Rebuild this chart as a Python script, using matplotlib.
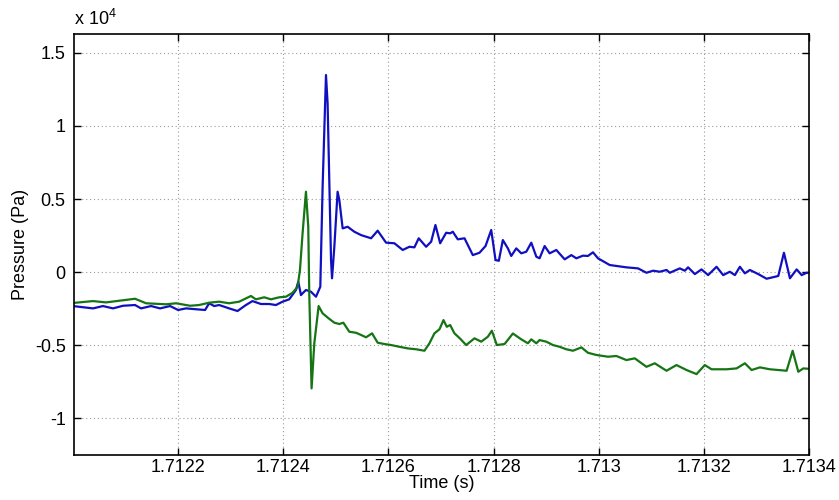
import matplotlib.pyplot as plt
from matplotlib.ticker import FuncFormatter

plt.rcParams["font.family"] = ["Liberation Sans", "DejaVu Sans"]
plt.rcParams["mathtext.fontset"] = "custom"
plt.rcParams["mathtext.rm"] = "Liberation Sans"

# time is given in microseconds after 1.712 s
t0 = 1.712

# sensor 1 (blue)
t_blue = [0.0, 38.1, 57.1, 76.2, 95.2, 118.1, 129.5, 148.6, 165.7, 184.8,
          200.0, 215.2, 234.3, 251.4, 259.1, 268.6, 278.1, 297.1, 313.0, 329.0,
          341.5, 357.5, 373.3, 386.1, 398.7, 411.4, 424.2, 428.6, 433.7, 436.8,
          443.2, 452.8, 462.3, 470.5, 474.9, 481.3, 484.4, 490.9, 492.8, 497.2,
          503.4, 506.7, 513.0, 522.5, 535.2, 548.0, 567.1, 579.6, 595.6, 611.4,
          627.3, 640.0, 649.5, 657.7, 671.8, 681.4, 689.5, 698.5, 709.9, 717.5,
          722.5, 732.0, 744.8, 760.6, 773.3, 784.8, 795.6, 803.8, 810.1, 817.7,
          827.3, 833.7, 843.3, 852.8, 862.3, 871.8, 881.4, 887.6, 897.2, 906.7,
          919.4, 935.3, 948.0, 957.5, 970.1, 979.6, 989.2, 998.7, 1021.0, 1052.8,
          1074.9, 1090.9, 1103.5, 1116.2, 1129.0, 1135.3, 1154.3, 1163.8, 1170.1, 1182.9,
          1195.6, 1208.2, 1224.2, 1236.8, 1249.5, 1259.1, 1268.6, 1278.1, 1287.6, 1303.5,
          1319.4, 1341.6, 1352.4, 1363.8, 1376.6, 1386.1, 1395.7, 1403.8]
p_blue = [-2330, -2490, -2330, -2490, -2310, -2260, -2490, -2330, -2490, -2330,
          -2600, -2490, -2550, -2600, -2140, -2330, -2260, -2490, -2670, -2260,
          -1990, -2190, -2190, -2260, -2030, -1870, -1230, -660, -1580, -1460,
          -1230, -1350, -1690, -1010, 5840, 13490, 11550, 820, -430, 1730,
          5500, 4930, 2990, 3100, 2760, 2530, 2310, 2830, 2010, 1970,
          1510, 1730, 1690, 2310, 1730, 2080, 3220, 1970, 2690, 2650,
          2760, 2240, 2310, 1160, 1320, 1780, 2880, 820, 770, 2190,
          1620, 1100, 1620, 1280, 1390, 2010, 1050, 940, 1780, 1280,
          1510, 870, 1160, 940, 1120, 1100, 1350, 940, 480, 320,
          250, -50, 90, 20, 140, -50, 250, 90, 320, -140,
          180, -210, 360, -210, 20, -210, 360, -90, 140, -140,
          -460, -270, 1320, -430, 180, -210, -50, -70]

# sensor 2 (green)
t_green = [0.0, 38.1, 62.9, 118.1, 139.1, 177.1, 196.2, 222.9, 240.0, 259.1,
           278.1, 297.1, 316.2, 338.5, 348.0, 363.8, 376.6, 392.4, 405.2, 417.7,
           427.3, 431.8, 436.8, 443.2, 447.6, 449.5, 453.9, 459.1, 467.3, 474.9,
           486.3, 497.2, 506.7, 514.3, 525.7, 538.5, 548.0, 557.5, 569.0, 579.6,
           592.4, 605.2, 621.0, 636.8, 652.8, 668.6, 678.1, 687.6, 697.2, 704.8,
           711.1, 717.5, 725.7, 735.3, 748.0, 763.8, 776.6, 789.2, 796.8, 806.3,
           821.0, 836.8, 852.8, 865.4, 871.8, 881.4, 887.6, 900.4, 913.0, 925.7,
           938.5, 951.1, 967.1, 979.6, 995.6, 1017.7, 1033.7, 1052.8, 1068.6, 1090.9,
           1106.7, 1129.0, 1148.0, 1167.1, 1186.1, 1201.9, 1214.7, 1243.3, 1262.3, 1278.1,
           1290.9, 1306.7, 1325.7, 1357.5, 1369.0, 1379.7, 1389.2, 1403.8]
p_green = [-2120, -1990, -2080, -1830, -2140, -2210, -2140, -2310, -2260, -2100,
           -2030, -2140, -2030, -1640, -1870, -1730, -1870, -1730, -1690, -1420,
           -1010, 140, 2650, 5500, 3100, -1460, -7970, -4880, -2330, -2830,
           -3170, -3470, -3560, -3470, -4090, -4160, -4310, -4470, -4200, -4840,
           -4930, -5000, -5120, -5230, -5290, -5390, -4880, -4200, -3920, -3290,
           -3750, -3630, -4200, -4520, -5000, -4540, -4770, -4430, -4020, -5000,
           -4930, -4210, -4610, -4880, -4610, -4880, -4660, -4770, -5000, -5120,
           -5290, -5390, -5160, -5530, -5680, -5800, -5750, -6030, -5910, -6490,
           -6250, -6760, -6370, -6710, -6990, -6370, -6660, -6660, -6600, -6250,
           -6710, -6530, -6660, -6760, -5390, -6830, -6600, -6640]

xticks = [1.7122, 1.7124, 1.7126, 1.7128, 1.7130, 1.7132, 1.7134]
yticks = [-10000, -5000, 0, 5000, 10000, 15000]

fig = plt.figure(figsize=(8.39, 5.0), dpi=100)
ax = fig.add_axes([0.0882, 0.09, 0.876, 0.842])

ax.plot([t0 + v * 1e-6 for v in t_blue], p_blue, color="#1010c0", lw=1.6)
ax.plot([t0 + v * 1e-6 for v in t_green], p_green, color="#157515", lw=1.6)

ax.set_xlim(1.712002, 1.7134)
ax.set_ylim(-12530, 16300)
ax.set_xticks(xticks)
ax.set_yticks(yticks)
ax.xaxis.set_major_formatter(FuncFormatter(lambda v, pos: "{:g}".format(round(v, 4))))
ax.yaxis.set_major_formatter(FuncFormatter(lambda v, pos: "{:g}".format(v / 1e4)))
ax.tick_params(direction="in", length=5, width=1, labelsize=13,
               top=True, right=True, pad=6)
ax.tick_params(axis="x", pad=3)
ax.grid(True, linestyle=(0, (1, 2.5)), color="#9a9a9a", lw=0.8)
for s in ax.spines.values():
    s.set_linewidth(1.2)

ax.text(0.0, 1.012, r"x 10$^{4}$", transform=ax.transAxes, fontsize=13,
        ha="left", va="bottom")
ax.set_xlabel("Time (s)", fontsize=13, labelpad=-1)
ax.set_ylabel("Pressure (Pa)", fontsize=13, labelpad=4)

fig.savefig("out.png", dpi=100)
